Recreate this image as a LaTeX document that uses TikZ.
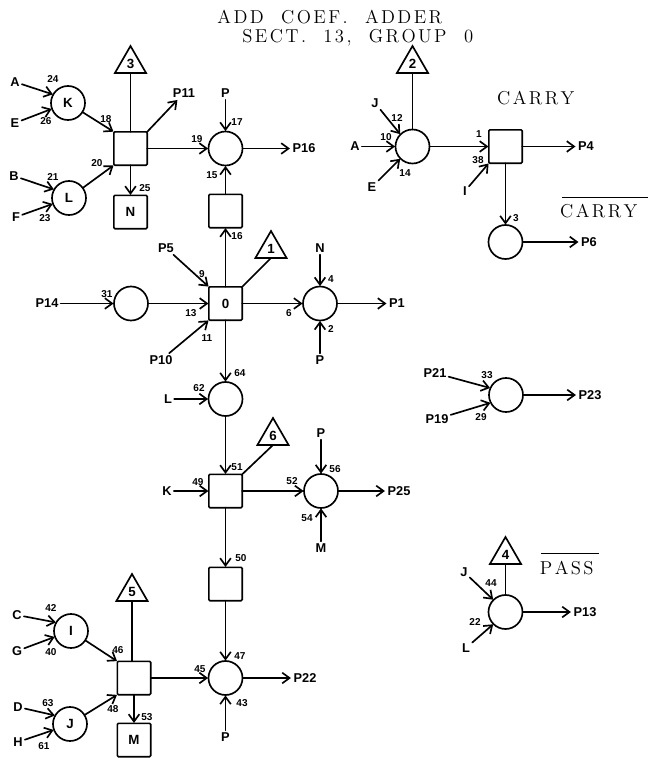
\documentclass[tikz,border=0pt]{standalone}
\usepackage{fontspec}
\setsansfont{Liberation Sans}
\usetikzlibrary{arrows.meta,shapes.geometric}
\def\lsp#1{\ifx#1\relax\else#1\kern1.8pt\expandafter\lsp\fi}
\tikzset{
  wire/.style={line width=1.25pt,line cap=round},
  arr/.style={wire,-{Straight Barb[length=5.5pt,width=8pt,line width=1.25pt]},shorten >=0.3pt},
  cir/.style={circle,draw,line width=1.25pt,minimum size=25.5pt,inner sep=0pt,outer sep=0pt,font=\sffamily\bfseries\fontsize{10}{10}\selectfont},
  sq/.style={rectangle,rounded corners=0.8pt,draw,line width=1.25pt,minimum size=25pt,inner sep=0pt,outer sep=0pt,font=\sffamily\bfseries\fontsize{10}{10}\selectfont},
  tri/.style={regular polygon,regular polygon sides=3,draw,line width=1.25pt,minimum size=27pt,inner sep=0pt,outer sep=0pt,font=\sffamily\bfseries\fontsize{10}{10}\selectfont},
  lab/.style={inner sep=1.5pt,font=\sffamily\bfseries\fontsize{9.6}{10}\selectfont},
  num/.style={inner sep=0pt,font=\sffamily\bfseries\fontsize{7.5}{7.5}\selectfont},
  ser/.style={inner sep=0pt,font=\fontsize{14}{14}\selectfont},
  bar/.style={line width=0.7pt},
}
\begin{document}
\begin{tikzpicture}[x=0.75pt,y=-0.75pt]
\useasboundingbox (0,0) rectangle (649,758);
% titles
\node[ser] (t1) at (331,17) {\lsp ADD\relax\hspace{0.8em}\lsp COEF.\relax\hspace{0.8em}\lsp ADDER\relax};
\node[ser] (t2) at (359,38) {\lsp SECT.\relax\hspace{0.8em}\lsp 13,\relax\hspace{0.8em}\lsp GROUP\relax\hspace{0.8em}\lsp 0\relax};
\node[ser] (carry) at (537,98) {\lsp CARRY\relax};
\node[ser] (ncarry) at (600,211) {\lsp CARRY\relax};
\node[ser] (pass) at (568,568) {\lsp PASS\relax};
\coordinate (cb1) at (562,197); \coordinate (cb2) at (648,197);
\coordinate (pb1) at (541,553); \coordinate (pb2) at (599,553);
\draw[bar] (cb1) -- (cb2);
\draw[bar] (pb1) -- (pb2);
% circles
\node[cir] (K) at (68,103) {K};
\node[cir] (L) at (69,198) {L};
\node[cir] (c16) at (225.5,148.5) {};
\node[cir] (c2) at (412.5,146.5) {};
\node[cir] (c3) at (505.5,242) {};
\node[cir] (c31) at (131,303.5) {};
\node[cir] (c4) at (320,303.5) {};
\node[cir] (c64) at (225.5,399) {};
\node[cir] (c52) at (321,491) {};
\node[cir] (I) at (71,631) {I};
\node[cir] (J) at (70,724) {J};
\node[cir] (c45) at (225.5,678) {};
\node[cir] (c33) at (506,395) {};
\node[cir] (c44) at (505.5,612) {};
% squares
\node[sq] (s3) at (130.5,148.5) {};
\node[sq] (N) at (130.5,212) {N};
\node[sq] (su) at (225.5,211) {};
\node[sq] (O) at (225.5,303.5) {0};
\node[sq] (s51) at (225.5,491) {};
\node[sq] (s50) at (225.5,584) {};
\node[sq] (s46) at (134,678) {};
\node[sq] (M) at (134,740) {M};
\node[sq] (sc) at (505.5,146.5) {};
% triangles
\node[tri] (T3) at (130.5,64) {3};
\node[tri] (T1) at (271,249) {1};
\node[tri] (T2) at (412.5,64) {2};
\node[tri] (T6) at (273,436) {6};
\node[tri] (T5) at (132,592) {5};
\node[tri] (T4) at (505.5,555) {4};
% terminal labels
\node[lab] (lA) at (15,82) {A};
\node[lab] (lE) at (15,123) {E};
\node[lab] (lB) at (14,176) {B};
\node[lab] (lF) at (16,217) {F};
\node[lab] (P11) at (184,93) {P11};
\node[lab] (Pa) at (225.5,93) {P};
\node[lab] (P16) at (304,148.5) {P16};
\node[lab] (P5) at (166,248) {P5};
\node[lab] (Nb) at (320,248) {N};
\node[lab] (Pb) at (320,360) {P};
\node[lab] (P1) at (397,303.5) {P1};
\node[lab] (P10) at (161,360) {P10};
\node[lab] (P14) at (47,303.5) {P14};
\node[lab] (Lb) at (168,399) {L};
\node[lab] (Kb) at (167,491) {K};
\node[lab] (Pc) at (321,433) {P};
\node[lab] (P25) at (399,491) {P25};
\node[lab] (Mb) at (321,548) {M};
\node[lab] (P22) at (305,678) {P22};
\node[lab] (Pd) at (225.5,737) {P};
\node[lab] (lC) at (17,615) {C};
\node[lab] (lG) at (17,651) {G};
\node[lab] (lD) at (18,707) {D};
\node[lab] (lH) at (18,742) {H};
\node[lab] (Jr) at (375,103) {J};
\node[lab] (Ar) at (355,146.5) {A};
\node[lab] (Er) at (372,187) {E};
\node[lab] (Ir) at (465,191) {I};
\node[lab] (P4) at (586,146.5) {P4};
\node[lab] (P6) at (589,242) {P6};
\node[lab] (P21) at (435,373) {P21};
\node[lab] (P19) at (437,419) {P19};
\node[lab] (P23) at (590,395) {P23};
\node[lab] (Js) at (464,572) {J};
\node[lab] (Ls) at (466,648) {L};
\node[lab] (P13) at (585,612) {P13};
% small numbers
\foreach \t/\x/\y in {24/53/79,26/46/121,21/53/177,23/45/218,18/106/119,20/97/163,25/145/188,
 17/237/122,19/197/139,15/212/175,16/237/236,4/331/279,2/331/329,6/289/313,9/202/274,13/191/313,
 11/207/338,31/107/294,64/240/373,62/199/388,49/198/482,51/237/467,52/292/481,56/335/469,54/307/518,
 50/241/558,47/240/656,45/200/669,43/242/703,42/51/608,40/51/652,63/48/703,61/44/746,46/118/650,
 48/113/709,53/147/717,12/397/118,10/386/137,14/405/173,1/479/134,38/478/160,3/516/218,
 33/487/375,29/481/417,44/491/583,22/475/622}
  \node[num] (n\t) at (\x,\y) {\t};
% connectors: top left
\draw[arr] (lA) -- (K.150);
\draw[arr] (lE) -- (K.200);
\draw[arr] (lB) -- (L.150);
\draw[arr] (lF) -- (L.200);
\draw[arr] (K) -- (s3.north west);
\draw[arr] (L) -- (s3.south west);
\draw[wire] (T3.side 2) -- (T3.side 2 |- s3.north);
\draw[arr] (s3.north east) -- (P11);
\draw[arr] (s3.south) -- (N.north);
\draw[arr] (s3.east) -- (c16.west);
\draw[arr] (Pa) -- (c16.north);
\draw[arr] (su.north) -- (c16.south);
\draw[arr] (c16.east) -- (P16);
% centre
\draw[arr] (O.north) -- (su.south);
\draw[wire] (T1.side 2) -- (O.north east);
\draw[arr] (P5) -- (O.north west);
\draw[arr] (P10) -- (O.south west);
\draw[arr] (P14) -- (c31.west);
\draw[arr] (c31.east) -- (O.west);
\draw[arr] (O.east) -- (c4.west);
\draw[arr] (Nb) -- (c4.north);
\draw[arr] (Pb) -- (c4.south);
\draw[arr] (c4.east) -- (P1);
\draw[arr] (O.south) -- (c64.north);
\draw[arr] (Lb) -- (c64.west);
\draw[arr] (c64.south) -- (s51.north);
\draw[arr] (Kb) -- (s51.west);
\draw[wire] (T6.side 2) -- (s51.north east);
\draw[arr] (s51.east) -- (c52.west);
\draw[arr] (Pc) -- (c52.north);
\draw[arr] (Mb) -- (c52.south);
\draw[arr] (c52.east) -- (P25);
\draw[arr] (s51.south) -- (s50.north);
\draw[arr] (s50.south) -- (c45.north);
% bottom left
\draw[arr] (lC) -- (I.150);
\draw[arr] (lG) -- (I.200);
\draw[arr] (lD) -- (J.150);
\draw[arr] (lH) -- (J.200);
\draw[arr] (I) -- (s46.north west);
\draw[arr] (J) -- (s46.south west);
\draw[wire] (T5.side 2) -- (T5.side 2 |- s46.north);
\draw[arr] (s46.south) -- (M.north);
\draw[arr] (s46.east) -- (c45.west);
\draw[arr] (Pd) -- (c45.south);
\draw[arr] (c45.east) -- (P22);
% top right
\draw[wire] (T2.side 2) -- (c2.north);
\draw[arr] (Jr) -- (c2.135);
\draw[arr] (Ar) -- (c2.west);
\draw[arr] (Er) -- (c2.225);
\draw[arr] (c2.east) -- (sc.west);
\draw[arr] (Ir) -- (sc.south west);
\draw[arr] (sc.east) -- (P4);
\draw[arr] (sc.south) -- (c3.north);
\draw[arr] (c3.east) -- (P6);
% right
\draw[arr] (P21) -- (c33.156);
\draw[arr] (P19) -- (c33.207);
\draw[arr] (c33.east) -- (P23);
\draw[wire] (T4.side 2) -- (c44.north);
\draw[arr] (Js) -- (c44.135);
\draw[arr] (Ls) -- (c44.225);
\draw[arr] (c44.east) -- (P13);
\end{tikzpicture}
\end{document}
